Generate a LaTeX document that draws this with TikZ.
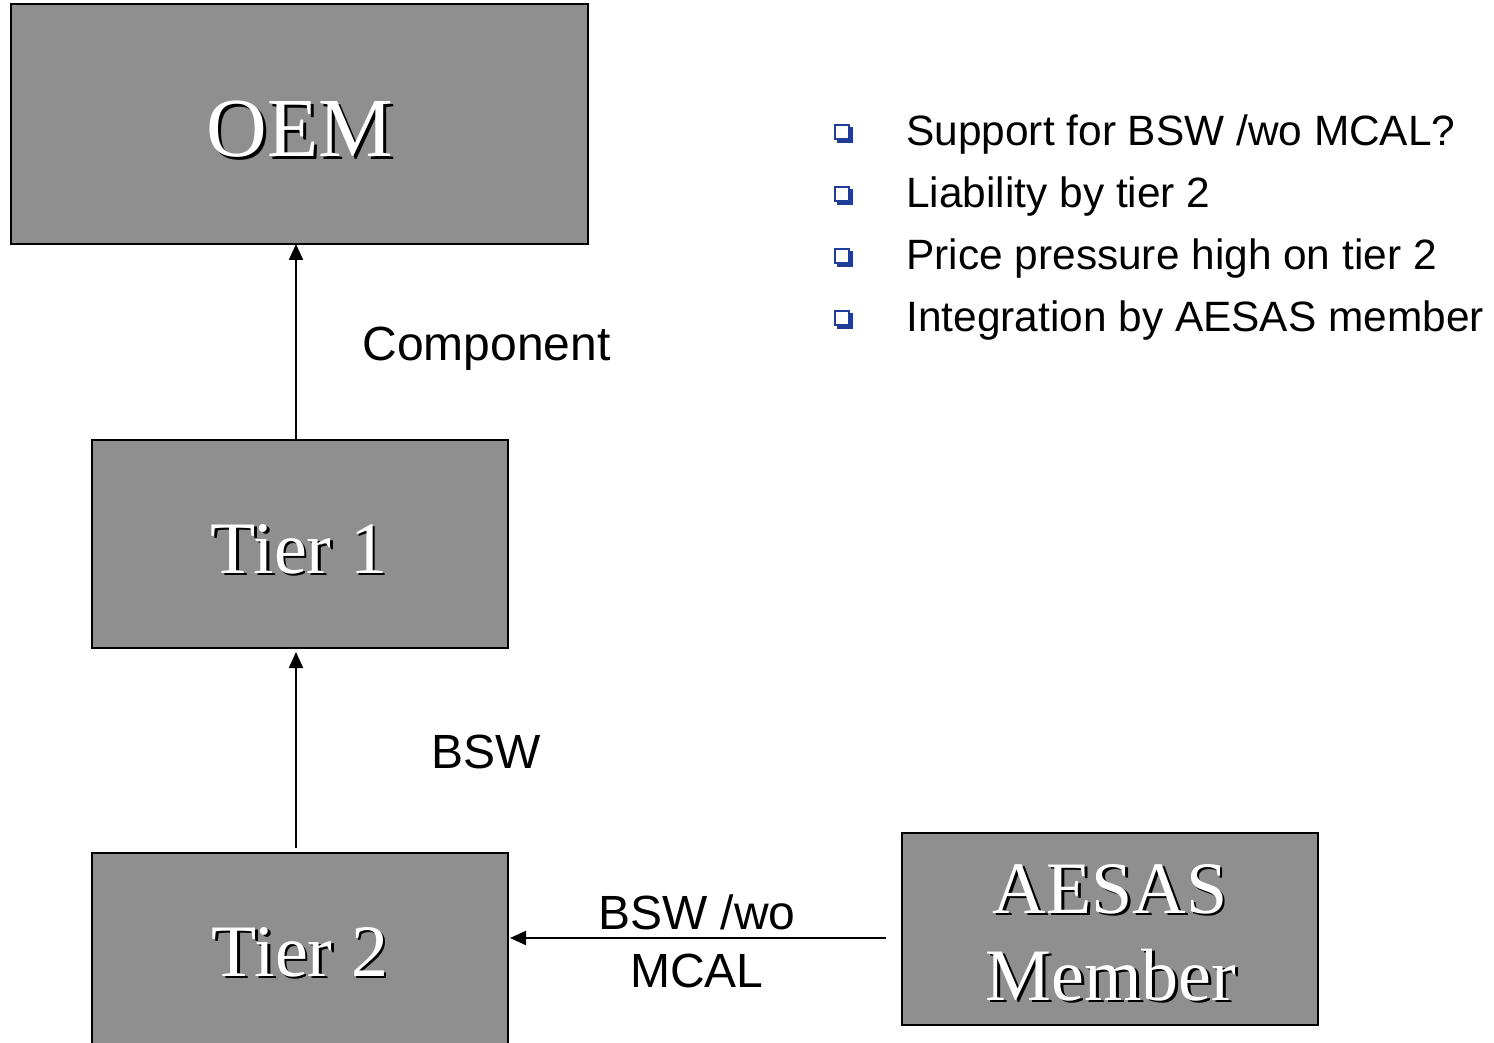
\documentclass[tikz,border=0pt]{standalone}
\usepackage{fontspec}
\setmainfont{Liberation Serif}
\setsansfont{Liberation Sans}
\usepackage{xcolor}
\usepackage{tikz}
\usetikzlibrary{arrows.meta,shadows}

\definecolor{boxgray}{HTML}{8F8F8F}
\definecolor{bulletblue}{HTML}{1F3C99}

% white text with a dark drop shadow
\newcommand\shtxt[1]{\leavevmode\rlap{\kern1.4pt\raisebox{-1.4pt}{\color{black}#1}}#1}

\tikzset{
    box/.style={draw=black, line width=1pt, fill=boxgray, inner sep=0pt},
    boxtext/.style={text=white, inner sep=0pt, anchor=base},
    label/.style={font=\sffamily\fontsize{24}{29}\selectfont, inner sep=0pt},
    point/.style={font=\sffamily\fontsize{21.2}{25}\selectfont, inner sep=0pt, anchor=base west},
    bullet/.style={draw=bulletblue, fill=white, line width=0.8pt, minimum size=7pt, inner sep=0pt,
        copy shadow={shadow xshift=1.6pt, shadow yshift=-1.6pt, fill=bulletblue, draw=bulletblue}},
    flow/.style={line width=1pt, -{Triangle[length=8pt,width=7pt]}}
}

\begin{document}
\begin{tikzpicture}[x=0.5pt, y=-0.5pt]
        \useasboundingbox (0,0) rectangle (1494,1043);

        % Boxes
        \node[box, minimum width=288.5pt, minimum height=120pt] (oem) at (299.5,124) {};
        \node[box, minimum width=208pt, minimum height=104pt] (tierone) at (300,544) {};
        \node[box, minimum width=208pt, minimum height=98.5pt] (tiertwo) at (300,951.5) {};
        \node[box, minimum width=208pt, minimum height=96pt] (aesas) at (1110,929) {};

        % Box texts
        \node[boxtext, font=\fontsize{42}{48}\selectfont] (oem text) at (300,157) {\shtxt{OEM}};
        \node[boxtext, font=\fontsize{37}{42}\selectfont] (tierone text) at (299,573) {\shtxt{Tier 1}};
        \node[boxtext, font=\fontsize{37}{42}\selectfont] (tiertwo text) at (300,976) {\shtxt{Tier 2}};
        \node[boxtext, font=\fontsize{37}{42}\selectfont] (aesas text) at (1110,913) {\shtxt{AESAS}};
        \node[boxtext, font=\fontsize{37}{42}\selectfont] (member text) at (1111,1000) {\shtxt{Member}};

        % Flows
        \coordinate (tierone top) at (296,440);
        \coordinate (oem bottom) at (296,244);
        \coordinate (tiertwo top) at (296,848);
        \coordinate (tierone bottom) at (296,652);
        \coordinate (aesas left) at (886,938);
        \coordinate (tiertwo right) at (510,938);
        \draw[flow] (tierone top) -- (oem bottom);
        \draw[flow] (tiertwo top) -- (tierone bottom);
        \draw[flow] (aesas left) -- (tiertwo right);

        % Flow labels
        \node[label, anchor=base west] (component) at (362,360) {Component};
        \node[label, anchor=base west] (bsw) at (431,768) {BSW};
        \node[label, anchor=base] (bswwo) at (697,929) {BSW /wo};
        \node[label, anchor=base] (mcal) at (697,987) {MCAL};

        % Open points
        \node[bullet] (b1) at (842,132) {};
        \node[point] (p1) at (906,146) {Support for BSW /wo MCAL?};
        \node[bullet] (b2) at (842,194) {};
        \node[point] (p2) at (906,208) {Liability by tier 2};
        \node[bullet] (b3) at (842,256) {};
        \node[point] (p3) at (906,270) {Price pressure high on tier 2};
        \node[bullet] (b4) at (842,318) {};
        \node[point] (p4) at (906,332) {Integration by AESAS member};
    \end{tikzpicture}
\end{document}
